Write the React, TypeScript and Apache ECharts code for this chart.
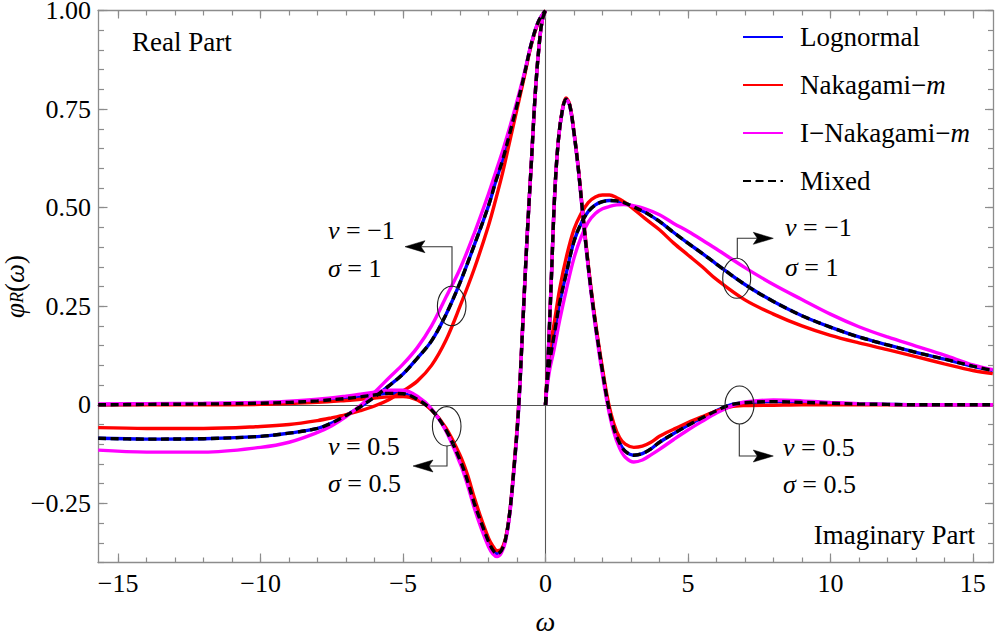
import React, { useEffect, useRef } from 'react';
import * as echarts from 'echarts';

const SERIF = 'Liberation Serif, Times New Roman, serif';

// ---- axes ----
const X_MIN = -15.708;
const X_MAX = 15.708;
const Y_MIN = -0.4;
const Y_MAX = 1.0;
const X_TICKS = [-15, -10, -5, 0, 5, 10, 15];
const X_MINOR = [-15, -14, -13, -12, -11, -10, -9, -8, -7, -6, -5, -4, -3, -2, -1, 0, 1, 2, 3, 4, 5, 6, 7, 8, 9, 10, 11, 12, 13, 14, 15];
const Y_TICKS = [-0.25, 0, 0.25, 0.5, 0.75, 1.0];
const Y_MINOR = [-0.4, -0.35, -0.3, -0.25, -0.2, -0.15, -0.1, -0.05, 0, 0.05, 0.1, 0.15, 0.2, 0.25, 0.3, 0.35, 0.4, 0.45, 0.5, 0.55, 0.6, 0.65, 0.7, 0.75, 0.8, 0.85, 0.9, 0.95, 1.0];

// ---- Real part, nu = -1, sigma = 1 (omega < 0) ----
const X_RE1 = [-15.7, -14, -12, -10, -9, -8, -7.5, -7, -6.5, -6, -5.5, -5, -4.5, -4, -3.5, -3, -2.5, -2, -1.75, -1.5, -1.25, -1, -0.75, -0.5, -0.25, 0];
const LOGN_RE1 = [-0.085, -0.087, -0.086, -0.08, -0.072, -0.06, -0.046, -0.027, -0.005, 0.02, 0.048, 0.078, 0.118, 0.162, 0.228, 0.31, 0.405, 0.505, 0.566, 0.622, 0.69, 0.76, 0.835, 0.915, 0.972, 1.0];
const NAKA_RE1 = [-0.058, -0.06, -0.06, -0.055, -0.05, -0.04, -0.033, -0.025, -0.015, -0.003, 0.013, 0.035, 0.06, 0.1, 0.163, 0.25, 0.345, 0.455, 0.52, 0.59, 0.67, 0.75, 0.83, 0.912, 0.97, 1.0];
const INAK_RE1 = [-0.115, -0.12, -0.12, -0.108, -0.095, -0.07, -0.053, -0.03, -0.002, 0.032, 0.068, 0.103, 0.145, 0.2, 0.272, 0.345, 0.435, 0.535, 0.59, 0.645, 0.705, 0.77, 0.84, 0.915, 0.972, 1.0];
const MIX_RE1 = [-0.085, -0.087, -0.086, -0.08, -0.072, -0.06, -0.046, -0.027, -0.005, 0.02, 0.048, 0.078, 0.118, 0.162, 0.228, 0.31, 0.405, 0.505, 0.566, 0.622, 0.69, 0.76, 0.835, 0.915, 0.972, 1.0];

// ---- Real part, nu = 0.5, sigma = 0.5 (omega < 0) ----
const X_RE2 = [-15.7, -14, -12, -10, -9, -8, -7, -6.5, -6, -5.5, -5, -4.5, -4, -3.5, -3, -2.75, -2.5, -2.25, -2, -1.85, -1.7, -1.55, -1.4, -1.25, -1.1, -0.95, -0.8, -0.65, -0.5, -0.35, -0.2, -0.1, 0];
const LOGN_RE2 = [0.0, 0.001, 0.002, 0.004, 0.006, 0.01, 0.016, 0.02, 0.025, 0.029, 0.028, 0.014, -0.013, -0.063, -0.14, -0.19, -0.25, -0.3, -0.347, -0.368, -0.378, -0.37, -0.34, -0.27, -0.155, -0.015, 0.2, 0.42, 0.61, 0.8, 0.93, 0.98, 1.0];
const NAKA_RE2 = [0.0, 0.0, 0.0, 0.001, 0.003, 0.006, 0.011, 0.014, 0.017, 0.02, 0.021, 0.012, -0.013, -0.058, -0.128, -0.175, -0.235, -0.29, -0.338, -0.358, -0.37, -0.366, -0.338, -0.27, -0.152, -0.01, 0.2, 0.42, 0.61, 0.8, 0.93, 0.98, 1.0];
const INAK_RE2 = [0.002, 0.003, 0.004, 0.006, 0.009, 0.014, 0.022, 0.027, 0.032, 0.037, 0.037, 0.022, -0.01, -0.066, -0.148, -0.2, -0.262, -0.315, -0.36, -0.378, -0.385, -0.376, -0.345, -0.275, -0.16, -0.02, 0.2, 0.42, 0.61, 0.8, 0.93, 0.98, 1.0];
const MIX_RE2 = [0.0, 0.001, 0.002, 0.004, 0.006, 0.01, 0.016, 0.02, 0.025, 0.029, 0.028, 0.014, -0.013, -0.063, -0.14, -0.19, -0.25, -0.3, -0.347, -0.368, -0.378, -0.37, -0.34, -0.27, -0.155, -0.015, 0.2, 0.42, 0.61, 0.8, 0.93, 0.98, 1.0];

// ---- Imaginary part, nu = -1, sigma = 1 (omega > 0) ----
const X_IM1 = [0, 0.05, 0.15, 0.3, 0.5, 0.75, 1, 1.25, 1.5, 1.75, 2, 2.25, 2.5, 2.75, 3, 3.5, 4, 4.5, 5, 5.5, 6, 7, 8, 9, 10, 11, 12, 13, 14, 15, 15.7];
const LOGN_IM1 = [0, 0.05, 0.11, 0.175, 0.26, 0.34, 0.415, 0.46, 0.49, 0.507, 0.515, 0.518, 0.517, 0.513, 0.505, 0.488, 0.465, 0.437, 0.41, 0.384, 0.357, 0.305, 0.262, 0.226, 0.197, 0.172, 0.152, 0.133, 0.116, 0.098, 0.087];
const NAKA_IM1 = [0, 0.065, 0.14, 0.205, 0.295, 0.38, 0.445, 0.485, 0.513, 0.527, 0.532, 0.532, 0.525, 0.515, 0.502, 0.472, 0.444, 0.41, 0.38, 0.35, 0.318, 0.266, 0.23, 0.2, 0.176, 0.157, 0.14, 0.122, 0.104, 0.087, 0.079];
const INAK_IM1 = [0, 0.04, 0.09, 0.14, 0.215, 0.298, 0.372, 0.425, 0.463, 0.485, 0.497, 0.503, 0.507, 0.508, 0.506, 0.497, 0.482, 0.46, 0.44, 0.418, 0.395, 0.348, 0.305, 0.267, 0.23, 0.198, 0.172, 0.149, 0.126, 0.101, 0.089];
const MIX_IM1 = [0, 0.05, 0.11, 0.175, 0.26, 0.34, 0.415, 0.46, 0.49, 0.507, 0.515, 0.518, 0.517, 0.513, 0.505, 0.488, 0.465, 0.437, 0.41, 0.384, 0.357, 0.305, 0.262, 0.226, 0.197, 0.172, 0.152, 0.133, 0.116, 0.098, 0.087];

// ---- Imaginary part, nu = 0.5, sigma = 0.5 (omega > 0) ----
const X_IM2 = [0, 0.08, 0.2, 0.32, 0.45, 0.6, 0.72, 0.85, 1.0, 1.15, 1.3, 1.45, 1.6, 1.8, 2.0, 2.2, 2.4, 2.6, 2.8, 3.1, 3.4, 3.7, 4.0, 4.5, 5, 5.5, 6, 6.5, 7, 8, 9, 10, 11, 12, 13, 15.7];
const LOGN_IM2 = [0, 0.1, 0.31, 0.53, 0.67, 0.75, 0.775, 0.76, 0.69, 0.6, 0.49, 0.385, 0.29, 0.18, 0.085, 0.0, -0.06, -0.097, -0.118, -0.128, -0.124, -0.112, -0.095, -0.073, -0.052, -0.033, -0.015, 0.0, 0.005, 0.008, 0.006, 0.004, 0.002, 0.001, 0, 0];
const NAKA_IM2 = [0, 0.1, 0.31, 0.53, 0.67, 0.752, 0.778, 0.762, 0.692, 0.602, 0.494, 0.39, 0.295, 0.186, 0.092, 0.008, -0.048, -0.083, -0.1, -0.108, -0.105, -0.095, -0.08, -0.062, -0.045, -0.03, -0.016, -0.005, -0.002, -0.001, 0, 0, 0, 0, 0, 0];
const INAK_IM2 = [0, 0.1, 0.31, 0.53, 0.67, 0.75, 0.775, 0.758, 0.688, 0.597, 0.486, 0.38, 0.284, 0.172, 0.076, -0.008, -0.07, -0.11, -0.133, -0.145, -0.14, -0.127, -0.113, -0.088, -0.064, -0.042, -0.021, -0.004, 0.007, 0.012, 0.01, 0.006, 0.003, 0.001, 0, 0];
const MIX_IM2 = [0, 0.1, 0.31, 0.53, 0.67, 0.75, 0.775, 0.76, 0.69, 0.6, 0.49, 0.385, 0.29, 0.18, 0.085, 0.0, -0.06, -0.097, -0.118, -0.128, -0.124, -0.112, -0.095, -0.073, -0.052, -0.033, -0.015, 0.0, 0.005, 0.008, 0.006, 0.004, 0.002, 0.001, 0, 0];

const LEGEND_NAMES = ['Lognormal', 'Nakagami-m', 'I-Nakagami-m', 'Mixed'];

const X_SETS = [X_RE1, X_RE2, X_IM1, X_IM2];
const DISTS = [
  { name: 'Lognormal', color: '#0000ff', width: 3.4, dash: 'solid' as any, curves: [LOGN_RE1, LOGN_RE2, LOGN_IM1, LOGN_IM2] },
  { name: 'Nakagami-m', color: '#ff0000', width: 3.4, dash: 'solid' as any, curves: [NAKA_RE1, NAKA_RE2, NAKA_IM1, NAKA_IM2] },
  { name: 'I-Nakagami-m', color: '#ff00ff', width: 3.4, dash: 'solid' as any, curves: [INAK_RE1, INAK_RE2, INAK_IM1, INAK_IM2] },
  { name: 'Mixed', color: '#000000', width: 3.4, dash: [8, 4.5] as any, curves: [MIX_RE1, MIX_RE2, MIX_IM1, MIX_IM2] },
];

const FRAME = '#8c8c8c';
const ZERO = '#555555';

function pairs(xs: number[], ys: number[]) {
  return xs.map((x, i) => [x, ys[i]]);
}

const fmtX = (v: number) => (v < 0 ? '\u2212' + Math.abs(v) : String(v));
const fmtY = (v: number) => (Math.abs(v) < 1e-9 ? '0' : (v < 0 ? '\u2212' : '') + Math.abs(v).toFixed(2));

function frameX(position: string, ticks: number[], len: number, main: boolean, withLabels: boolean) {
  return {
    type: 'value',
    min: X_MIN,
    max: X_MAX,
    position,
    axisLine: { show: main, onZero: false, lineStyle: { color: FRAME, width: 1.3 } },
    axisTick: { show: true, inside: true, length: len, customValues: ticks, lineStyle: { color: FRAME, width: 1.2 } },
    axisLabel: withLabels
      ? { show: true, customValues: X_TICKS, formatter: fmtX, margin: 8, fontFamily: SERIF, fontSize: 26, color: '#000' }
      : { show: false },
    splitLine: { show: false },
  } as any;
}

function frameY(position: string, ticks: number[], len: number, main: boolean, withLabels: boolean) {
  return {
    type: 'value',
    min: Y_MIN,
    max: Y_MAX,
    position,
    axisLine: { show: main, onZero: false, lineStyle: { color: FRAME, width: 1.3 } },
    axisTick: { show: true, inside: true, length: len, customValues: ticks, lineStyle: { color: FRAME, width: 1.2 } },
    axisLabel: withLabels
      ? { show: true, customValues: Y_TICKS, formatter: fmtY, margin: 7, fontFamily: SERIF, fontSize: 26, lineHeight: 20, color: '#000' }
      : { show: false },
    splitLine: { show: false },
  } as any;
}

function annotationText(x: number, y: number, sym: string, rest: string) {
  return {
    type: 'text',
    x,
    y,
    z: 100,
    style: {
      text: '{i|' + sym + '}{n|' + rest + '}',
      fill: '#000',
      verticalAlign: 'middle',
      align: 'left',
      fontFamily: SERIF,
      fontSize: 26,
      rich: {
        i: { fontFamily: SERIF, fontSize: 26, fontStyle: 'italic', fill: '#000' },
        n: { fontFamily: SERIF, fontSize: 26, fill: '#000' },
      },
    },
  };
}

function arrowHead(tipX: number, tipY: number, dir: number) {
  // dir = -1 arrow pointing left, +1 pointing right
  const back = tipX - dir * 20;
  const notch = tipX - dir * 16;
  return {
    type: 'polygon',
    z: 100,
    shape: { points: [[tipX, tipY], [back, tipY - 6], [notch, tipY], [back, tipY + 6]] },
    style: { fill: '#000', stroke: '#000', lineWidth: 0.5 },
  };
}

function connector(points: number[][]) {
  return { type: 'polyline', z: 100, shape: { points }, style: { stroke: '#333', lineWidth: 1.1, fill: 'none' } };
}

function ring(cx: number, cy: number, rx: number, ry: number) {
  return { type: 'ellipse', z: 100, shape: { cx, cy, rx, ry }, style: { fill: 'none', stroke: '#222', lineWidth: 1.1 } };
}

export default function App() {
  const ref = useRef<HTMLDivElement>(null);

  useEffect(() => {
    if (!ref.current) return;
    const chart = echarts.init(ref.current, undefined, { renderer: 'svg' });

    const series: any[] = [];
    DISTS.forEach((d, di) => {
      d.curves.forEach((ys, k) => {
        series.push({
          type: 'line',
          name: d.name,
          data: pairs(X_SETS[k], ys),
          xAxisIndex: 0,
          yAxisIndex: 0,
          symbol: 'none',
          smooth: 0.35,
          z: 3 + di,
          lineStyle: { color: d.color, width: d.width, type: d.dash, cap: 'butt' },
          itemStyle: { color: d.color },
          emphasis: { disabled: true },
        });
      });
    });

    const option: any = {
      animation: false,
      backgroundColor: '#ffffff',
      grid: { left: 98, right: 4, top: 10.5, bottom: 73.5, outerBoundsMode: 'none', containLabel: false },
      legend: {
        data: LEGEND_NAMES,
        orient: 'vertical',
        left: 742,
        top: 22,
        padding: 0,
        itemWidth: 40,
        itemHeight: 14,
        itemGap: 18,
        selectedMode: false,
        itemStyle: { opacity: 0 },
        formatter: (name: string) => {
          if (name === 'Nakagami-m') return '{n|Nakagami\u2212}{i|m}';
          if (name === 'I-Nakagami-m') return '{n|I\u2212Nakagami\u2212}{i|m}';
          return '{n|' + name + '}';
        },
        textStyle: {
          fontFamily: SERIF,
          fontSize: 27,
          color: '#000',
          lineHeight: 30,
          padding: [0, 0, 0, 12],
          rich: {
            n: { fontFamily: SERIF, fontSize: 27, color: '#000', lineHeight: 30 },
            i: { fontFamily: SERIF, fontSize: 27, fontStyle: 'italic', color: '#000', lineHeight: 30 },
          },
        },
      },
      xAxis: [
        {
          ...frameX('bottom', X_TICKS, 9, true, true),
          name: '\u03c9',
          nameLocation: 'middle',
          nameGap: 47,
          nameMoveOverlap: false,
          nameTextStyle: { fontFamily: SERIF, fontSize: 28, fontStyle: 'italic', color: '#000', lineHeight: 24 },
        },
        frameX('bottom', X_MINOR, 5, false, false),
        frameX('top', X_TICKS, 8, true, false),
        frameX('top', X_MINOR, 5, false, false),
        {
          type: 'value', min: X_MIN, max: X_MAX, position: 'bottom',
          axisLine: { show: true, onZero: true, lineStyle: { color: ZERO, width: 1.1 } },
          axisTick: { show: false }, axisLabel: { show: false }, splitLine: { show: false },
        },
      ],
      yAxis: [
        {
          ...frameY('left', Y_TICKS, 9.5, true, true),
          name: '{i|\u03c6}{s|R}{n|(}{i|\u03c9}{n|)}',
          nameLocation: 'middle',
          nameGap: 72,
          nameMoveOverlap: false,
          nameTextStyle: {
            color: '#000',
            fontFamily: SERIF,
            fontSize: 27,
            lineHeight: 22,
            rich: {
              i: { fontFamily: SERIF, fontSize: 27, fontStyle: 'italic', color: '#000', lineHeight: 22 },
              n: { fontFamily: SERIF, fontSize: 27, color: '#000', lineHeight: 22 },
              s: { fontFamily: SERIF, fontSize: 18, fontStyle: 'italic', color: '#000', lineHeight: 12, verticalAlign: 'bottom' },
            },
          },
        },
        frameY('left', Y_MINOR, 6, false, false),
        frameY('right', Y_TICKS, 8, true, false),
        frameY('right', Y_MINOR, 5, false, false),
        {
          type: 'value', min: Y_MIN, max: Y_MAX, position: 'left',
          axisLine: { show: true, onZero: true, lineStyle: { color: ZERO, width: 1.1 } },
          axisTick: { show: false }, axisLabel: { show: false }, splitLine: { show: false },
        },
      ],
      series,
      graphic: [
        {
          type: 'text', x: 132, y: 42, z: 100,
          style: { text: 'Real Part', fontFamily: SERIF, fontSize: 27, fill: '#000', verticalAlign: 'middle', align: 'left' },
        },
        {
          type: 'text', x: 975, y: 535, z: 100,
          style: { text: 'Imaginary Part', fontFamily: SERIF, fontSize: 27, fill: '#000', verticalAlign: 'middle', align: 'right' },
        },
        // left, nu=-1
        ring(451.7, 306, 14.3, 19.7),
        connector([[452, 286.3], [452, 246.7], [421, 246.7]]),
        arrowHead(405, 246.7, -1),
        annotationText(328, 230, '\u03bd', ' = \u22121'),
        annotationText(328, 268, '\u03c3', ' = 1'),
        // left, nu=0.5
        ring(446.7, 426.3, 14.3, 19.7),
        connector([[447, 446], [447, 466], [429, 466]]),
        arrowHead(413, 466, -1),
        annotationText(328, 446, '\u03bd', ' = 0.5'),
        annotationText(328, 483, '\u03c3', ' = 0.5'),
        // right, nu=-1
        ring(736.7, 278.3, 14, 20),
        connector([[737.3, 258.3], [737.3, 238.3], [757.3, 238.3]]),
        arrowHead(773.3, 238.3, 1),
        annotationText(785, 227, '\u03bd', ' = \u22121'),
        annotationText(785, 267, '\u03c3', ' = 1'),
        // right, nu=0.5
        ring(739.5, 405, 14.5, 19),
        connector([[739.3, 424], [739.3, 456], [757.3, 456]]),
        arrowHead(773.3, 456, 1),
        annotationText(783, 447, '\u03bd', ' = 0.5'),
        annotationText(783, 484, '\u03c3', ' = 0.5'),
      ],
    };

    chart.setOption(option);
    return () => {
      chart.dispose();
    };
  }, []);

  return (
    <div
      ref={ref}
      style={{ position: 'fixed', left: 0, top: 0, width: 997, height: 636, background: '#fff' }}
    />
  );
}
